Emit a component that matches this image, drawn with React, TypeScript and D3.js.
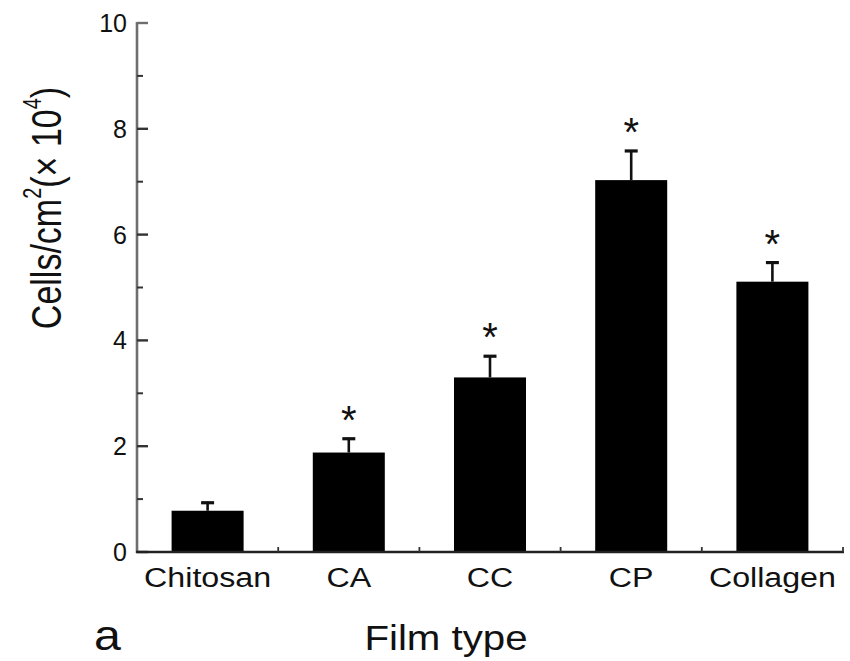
import React from "react";
import * as d3 from "d3";

// Cell density on each film type (mean and upward SD), with significance marks
const categories: string[] = ["Chitosan", "CA", "CC", "CP", "Collagen"];
const means: number[] = [0.78, 1.88, 3.3, 7.03, 5.11];
const errors: number[] = [0.17, 0.28, 0.42, 0.57, 0.38];
const significant: boolean[] = [false, true, true, true, true];
const majorTicks: number[] = [0, 2, 4, 6, 8, 10];
const minorTicks: number[] = [1, 3, 5, 7, 9];

const W = 850;
const H = 661;
const left = 137;
const right = 843;
const top = 23;
const bottom = 552;

const FONT = "'Liberation Sans', Arial, Helvetica, sans-serif";

export default function App() {
  const x = d3.scaleBand<string>().domain(categories).range([left, right]).padding(0);
  const y = d3.scaleLinear().domain([0, 10]).range([bottom, top]);
  const barW = x.bandwidth() * 0.51;
  const axisColor = "#6e6e6e";

  const rows = categories.map((c, i) => ({
    c,
    mean: means[i],
    err: errors[i],
    sig: significant[i],
    cx: (x(c) as number) + x.bandwidth() / 2,
  }));

  const starSize = 40;

  return (
    <div style={{ position: "fixed", left: 0, top: 0, width: W, height: H, background: "#fff" }}>
      <svg width={W} height={H} viewBox={`0 0 ${W} ${H}`} style={{ display: "block" }}>
        <rect width={W} height={H} fill="#fff" />

        {/* bars */}
        {rows.map((r) => (
          <rect
            key={"bar-" + r.c}
            x={r.cx - barW / 2}
            y={y(r.mean)}
            width={barW}
            height={y(0) - y(r.mean)}
            fill="#000"
          />
        ))}

        {/* upward error bars */}
        {rows.map((r) => (
          <g key={"err-" + r.c} stroke="#111">
            <line x1={r.cx} x2={r.cx} y1={y(r.mean)} y2={y(r.mean + r.err)} strokeWidth={2.6} />
            <line
              x1={r.cx - 6.5}
              x2={r.cx + 6.5}
              y1={y(r.mean + r.err) + 1}
              y2={y(r.mean + r.err) + 1}
              strokeWidth={3.2}
            />
          </g>
        ))}

        {/* significance stars */}
        {rows
          .filter((r) => r.sig)
          .map((r) => (
            <text
              key={"star-" + r.c}
              x={r.cx}
              y={y(r.mean + r.err) - 26 + starSize * 0.55}
              textAnchor="middle"
              fontFamily={FONT}
              fontSize={starSize}
              fill="#111"
            >
              *
            </text>
          ))}

        {/* y axis */}
        <line x1={left} x2={left} y1={top - 1} y2={bottom + 1} stroke={axisColor} strokeWidth={2.6} />
        {majorTicks.map((t) => (
          <line
            key={"maj-" + t}
            x1={left}
            x2={left + 11}
            y1={y(t)}
            y2={y(t)}
            stroke={t === 10 ? axisColor : "#333"}
            strokeWidth={2.4}
          />
        ))}
        {minorTicks.map((t) => (
          <line key={"min-" + t} x1={left} x2={left + 6} y1={y(t)} y2={y(t)} stroke="#333" strokeWidth={2} />
        ))}
        {majorTicks.map((t) => (
          <text
            key={"lab-" + t}
            x={left - 10}
            y={y(t) + 9}
            textAnchor="end"
            fontFamily={FONT}
            fontSize={25}
            fill="#111"
          >
            {t}
          </text>
        ))}

        {/* x axis */}
        <line x1={left - 1} x2={right + 1} y1={bottom} y2={bottom} stroke="#222" strokeWidth={2.4} />
        {categories.map((c) => (
          <line
            key={"xt-" + c}
            x1={(x(c) as number) + x.bandwidth()}
            x2={(x(c) as number) + x.bandwidth()}
            y1={bottom}
            y2={bottom - 5}
            stroke="#333"
            strokeWidth={1.8}
          />
        ))}
        {rows.map((r) => (
          <g key={"xl-" + r.c} transform={`translate(${r.cx},587) scale(1.15,1)`}>
            <text textAnchor="middle" fontFamily={FONT} fontSize={28} fill="#111">
              {r.c}
            </text>
          </g>
        ))}

        {/* axis titles */}
        <g transform="translate(446,650) scale(1.15,1)">
          <text textAnchor="middle" fontFamily={FONT} fontSize={35} fill="#111">
            Film type
          </text>
        </g>
        <g transform="translate(94,650) scale(1.15,1)">
          <text textAnchor="start" fontFamily={FONT} fontSize={42} fill="#111">
            a
          </text>
        </g>
        <g transform="translate(61,208) rotate(-90) scale(1,1.25)">
          <text textAnchor="middle" fontFamily={FONT} fontSize={34} fill="#111">
            Cells/cm
            <tspan fontSize={20} dy={-16}>
              2
            </tspan>
            <tspan dy={16}>(× 10</tspan>
            <tspan fontSize={20} dy={-16}>
              4
            </tspan>
            <tspan dy={16}>)</tspan>
          </text>
        </g>
      </svg>
    </div>
  );
}
